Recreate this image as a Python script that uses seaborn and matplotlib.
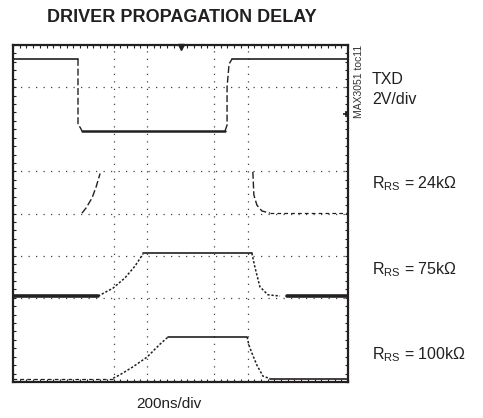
import matplotlib
matplotlib.use("Agg")
import matplotlib.pyplot as plt
from matplotlib.ticker import MultipleLocator, FixedLocator
import pandas as pd
import seaborn as sns

# ---------------- data (screen divisions: x = time / 200ns, y = vertical div) -------------
title = "DRIVER PROPAGATION DELAY"
x_caption = "200ns/div"
side_note = "MAX3051 toc11"
label_txd = ["TXD", "2V/div"]
label_rs = [r"R$_{\mathrm{RS}}$ = 24kΩ", r"R$_{\mathrm{RS}}$ = 75kΩ", r"R$_{\mathrm{RS}}$ = 100kΩ"]

grid_x = [3, 4, 6, 7]
grid_y = [2, 3, 4, 5, 7]
trigger_x = 5.0
txd_ground = 6.36

txd_x = [0.00, 1.94, 1.94, 1.94, 2.00, 2.06, 2.06, 6.33, 6.33, 6.39, 6.39, 6.45, 6.54, 6.54, 10.00]
txd_y = [7.67, 7.67, 7.67, 6.10, 6.05, 5.96, 5.96, 5.96, 5.96, 6.10, 7.00, 7.55, 7.67, 7.67, 7.67]
txd_seg = [0, 0, 1, 1, 1, 1, 2, 2, 3, 3, 3, 3, 3, 4, 4]
txd_kind = ["level", "edge", "bold", "edge", "level"]

r24_x = [2.06, 2.18, 2.36, 2.48, 2.60, 7.16, 7.19, 7.28, 7.43, 7.67, 7.67, 10.00]
r24_y = [4.01, 4.13, 4.37, 4.63, 4.95, 4.99, 4.44, 4.20, 4.06, 4.01, 4.01, 4.01]
r24_seg = [0, 0, 0, 0, 0, 1, 1, 1, 1, 1, 2, 2]
r24_kind = ["edge", "edge", "faint"]

r75_x = [0.00, 2.54, 2.54, 2.66, 2.99, 3.34, 3.64, 3.88, 3.88, 7.13,
         7.13, 7.22, 7.37, 7.61, 7.97, 8.18, 10.00]
r75_y = [2.04, 2.04, 2.04, 2.09, 2.23, 2.47, 2.75, 3.04, 3.06, 3.06,
         3.06, 2.73, 2.26, 2.07, 2.04, 2.04, 2.04]
r75_seg = [0, 0, 1, 1, 1, 1, 1, 1, 2, 2, 3, 3, 3, 3, 3, 4, 4]
r75_kind = ["heavy", "ramp", "level", "ramp", "heavy"]

r100_x = [0.00, 2.99, 2.99, 3.19, 3.58, 4.00, 4.39, 4.63, 4.63, 6.99,
          6.99, 7.04, 7.13, 7.28, 7.46, 7.67, 7.67, 10.00]
r100_y = [0.08, 0.08, 0.09, 0.17, 0.36, 0.59, 0.90, 1.07, 1.07, 1.07,
          1.07, 0.88, 0.69, 0.40, 0.14, 0.08, 0.08, 0.08]
r100_seg = [0, 0, 1, 1, 1, 1, 1, 1, 2, 2, 3, 3, 3, 3, 3, 3, 4, 4]
r100_kind = ["faint", "ramp", "level", "ramp", "level"]

# ---------------- build table ----------------
def build(name, xs, ys, segs, kinds):
    df = pd.DataFrame({"x": xs, "y": ys, "seg": segs})
    df["trace"] = name
    df["kind"] = [kinds[s] for s in segs]
    return df

data = pd.concat([
    build("TXD", txd_x, txd_y, txd_seg, txd_kind),
    build("24k", r24_x, r24_y, r24_seg, r24_kind),
    build("75k", r75_x, r75_y, r75_seg, r75_kind),
    build("100k", r100_x, r100_y, r100_seg, r100_kind),
], ignore_index=True)

kind_style = {
    "level": dict(lw=1.2, ls="-"),
    "bold": dict(lw=1.8, ls="-"),
    "heavy": dict(lw=2.6, ls="-"),
    "edge": dict(lw=1.0, ls=(0, (5, 2))),
    "ramp": dict(lw=1.1, ls=(0, (1.5, 1.2))),
    "faint": dict(lw=0.9, ls=(0, (3, 2.5))),
}

# ---------------- plot ----------------
sns.set_theme(style="white")
plt.rcParams["font.family"] = ["Liberation Sans", "DejaVu Sans"]
plt.rcParams["mathtext.fontset"] = "custom"
plt.rcParams["mathtext.rm"] = "Liberation Sans"
plt.rcParams["mathtext.it"] = "Liberation Sans:italic"
plt.rcParams["mathtext.bf"] = "Liberation Sans:bold"

ink = "#231f20"
fig = plt.figure(figsize=(4.83, 4.18), dpi=100)
ax = fig.add_axes([13 / 483, 1 - 382 / 418, 335 / 483, 337 / 418])

for (trace, seg), sub in data.groupby(["trace", "seg"], sort=False):
    st = kind_style[sub["kind"].iloc[0]]
    sns.lineplot(data=sub, x="x", y="y", sort=False, estimator=None, ax=ax,
                 color=ink, linewidth=st["lw"], linestyle=st["ls"], legend=False)

ax.set_xlim(0, 10)
ax.set_ylim(0, 8)
ax.xaxis.set_major_locator(FixedLocator(grid_x))
ax.yaxis.set_major_locator(FixedLocator(grid_y))
ax.xaxis.set_minor_locator(MultipleLocator(0.2))
ax.yaxis.set_minor_locator(MultipleLocator(0.2))
ax.tick_params(which="both", direction="in", length=2.5, width=0.8, color=ink,
               top=True, right=True, bottom=True, left=True,
               labelbottom=False, labelleft=False)
ax.grid(True, which="major", color="#444444", linewidth=0.9, linestyle=(0, (1, 5)))
ax.set_xlabel("")
ax.set_ylabel("")
for sp in ax.spines.values():
    sp.set_visible(True)
    sp.set_linewidth(1.6)
    sp.set_color(ink)

# markers: trigger position and TXD ground reference
ax.plot([trigger_x], [7.95], marker="v", ms=4.5, color=ink, clip_on=False, ls="none")
ax.plot([9.93], [txd_ground], marker="+", ms=5, mew=1.2, color=ink, clip_on=False, ls="none")

# ---------------- text ----------------
fig.text(182 / 483, 1 - 18 / 418, title, ha="center", va="center",
         fontsize=13, fontweight="bold", color=ink)
fig.text(169 / 483, 1 - 404 / 418, x_caption, ha="center", va="center",
         fontsize=11, color=ink)
fig.text(358.5 / 483, 1 - 45 / 418, side_note, ha="center", va="top",
         rotation=90, fontsize=7.5, color="#333333")
fig.text(372 / 483, 1 - 80 / 418, label_txd[0], ha="left", va="center", fontsize=11.5, color=ink)
fig.text(372 / 483, 1 - 99 / 418, label_txd[1], ha="left", va="center", fontsize=11.5, color=ink)
for lab, ypx in zip(label_rs, [184, 270, 355]):
    fig.text(372 / 483, 1 - ypx / 418, lab, ha="left", va="center", fontsize=11.5, color=ink)

fig.savefig("out.png", dpi=100)
